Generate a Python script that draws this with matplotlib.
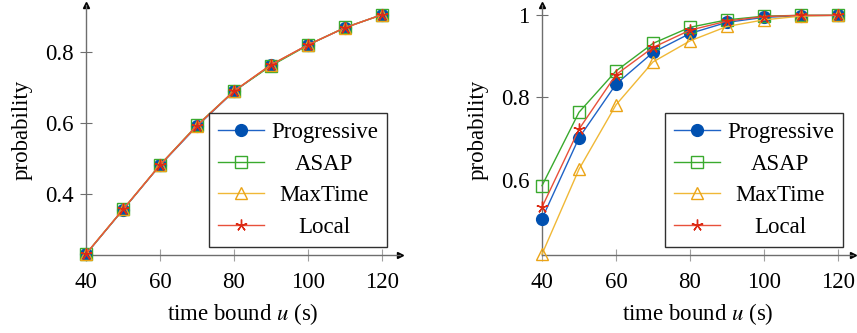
import matplotlib
matplotlib.use("Agg")
import matplotlib.pyplot as plt

plt.rcParams['font.family'] = ['Liberation Serif', 'DejaVu Serif']
plt.rcParams['mathtext.fontset'] = 'stix'

# time bounds (s)
time_bound = [40, 50, 60, 70, 80, 90, 100, 110, 120]

# left panel
left_progressive = [0.231, 0.356, 0.481, 0.591, 0.689, 0.763, 0.820, 0.868, 0.905]
left_asap = [0.232, 0.357, 0.482, 0.594, 0.690, 0.761, 0.819, 0.869, 0.904]
left_maxtime = [0.232, 0.357, 0.482, 0.593, 0.690, 0.764, 0.820, 0.868, 0.905]
left_local = [0.232, 0.357, 0.482, 0.593, 0.690, 0.764, 0.820, 0.868, 0.905]

# right panel
right_progressive = [0.506, 0.702, 0.832, 0.909, 0.955, 0.982, 0.994, 0.998, 0.999]
right_asap = [0.586, 0.764, 0.864, 0.931, 0.970, 0.988, 0.997, 0.999, 0.999]
right_maxtime = [0.420, 0.626, 0.782, 0.886, 0.937, 0.972, 0.988, 0.997, 0.999]
right_local = [0.534, 0.723, 0.855, 0.921, 0.963, 0.985, 0.996, 0.999, 0.999]

labels = ['Progressive', 'ASAP', 'MaxTime', 'Local']

styles = [
    dict(color='#1f63c6', marker='o', markersize=8.5, markerfacecolor='#0050b0',
         markeredgecolor='#0050b0', lw=1.0),
    dict(color='#3aaa2e', marker='s', markersize=8.5, markerfacecolor='none',
         markeredgecolor='#3aaa2e', lw=1.0),
    dict(color='#f0b836', marker='^', markersize=8, markerfacecolor='none',
         markeredgecolor='#eba416', lw=1.0),
    dict(color='#e8503a', marker=(5, 2, 0), markersize=8.5, markerfacecolor='none',
         markeredgecolor='#dc2a14', lw=1.0),
]

axis_gray = '#6e6e6e'
fs = 16.5


def setup_axes(ax, xlim, ylim, yticks, yticklabels):
    ax.set_xlim(*xlim)
    ax.set_ylim(*ylim)
    for s in ['top', 'right']:
        ax.spines[s].set_visible(False)
    for s in ['left', 'bottom']:
        ax.spines[s].set_color(axis_gray)
        ax.spines[s].set_linewidth(1.0)
    ax.set_xticks([40, 60, 80, 100, 120])
    ax.set_yticks(yticks)
    ax.set_yticklabels(yticklabels)
    ax.tick_params(direction='inout', length=8, width=0.8, color='#a0a0a0',
                   labelsize=fs)
    ax.tick_params(axis='x', pad=8)
    ax.tick_params(axis='y', color=axis_gray, pad=5)
    # arrow heads
    ax.plot(1, 0, marker='>', color='black', markersize=5, transform=ax.transAxes, clip_on=False)
    ax.plot(0, 1, marker='^', color='black', markersize=5, transform=ax.transAxes, clip_on=False)
    ax.set_xlabel('time bound $u$ (s)', fontsize=fs, labelpad=6)
    ax.set_ylabel('probability', fontsize=fs, labelpad=9)


def center_legend(fig, leg):
    fig.canvas.draw()
    r = fig.canvas.get_renderer()
    texts = leg.get_texts()
    widths = [t.get_window_extent(r).width for t in texts]
    wmax = max(widths)
    for t, w in zip(texts, widths):
        t.set_position(((wmax - w) / 2, 0))


fig = plt.figure(figsize=(8.57, 3.33), dpi=100)
ax1 = fig.add_axes([86 / 857, 78 / 333, 314.5 / 857, 250 / 333])
ax2 = fig.add_axes([542 / 857, 78 / 333, 310.8 / 857, 250 / 333])

for vals, st, lab in zip([left_progressive, left_asap, left_maxtime, left_local], styles, labels):
    ax1.plot(time_bound, vals, label=lab, clip_on=False, zorder=3, **st)
for vals, st, lab in zip([right_progressive, right_asap, right_maxtime, right_local], styles, labels):
    ax2.plot(time_bound, vals, label=lab, clip_on=False, zorder=3, **st)

setup_axes(ax1, (40, 125), (0.229, 0.932), [0.4, 0.6, 0.8], ['0.4', '0.6', '0.8'])
setup_axes(ax2, (40, 124), (0.418, 1.024), [0.6, 0.8, 1.0], ['0.6', '0.8', '1'])

legs = []
for ax, anchor in [(ax1, (387 / 857, 86 / 333)), (ax2, (843 / 857, 86 / 333))]:
    leg = ax.legend(loc='lower right', bbox_to_anchor=anchor, bbox_transform=fig.transFigure,
                    fontsize=fs, frameon=True, fancybox=False, edgecolor='#303030',
                    framealpha=1, handlelength=2.0, handletextpad=0.3, labelspacing=0.46,
                    borderpad=0.4, borderaxespad=0)
    leg.get_frame().set_linewidth(1.0)
    leg.set_zorder(5)
    legs.append(leg)

for leg in legs:
    center_legend(fig, leg)

fig.savefig('out.png', dpi=100)
